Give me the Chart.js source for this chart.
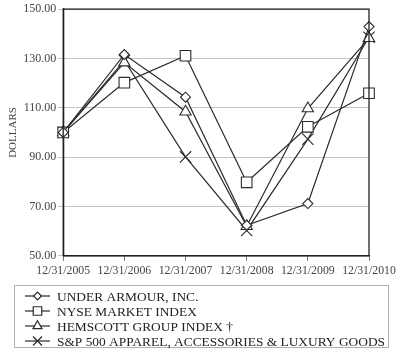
<!DOCTYPE html>
<html>
<head>
<meta charset="utf-8">
<script src="https://cdn.jsdelivr.net/npm/chart.js@4"></script>
<style>
  html, body { margin: 0; padding: 0; background: #fff; }
  #wrap { width: 405px; height: 352px; }
</style>
</head>
<body>
<div id="wrap"><canvas id="myChart" width="405" height="352"></canvas></div>
<script>
// Datos
const years = ['12/31/2005', '12/31/2006', '12/31/2007', '12/31/2008', '12/31/2009', '12/31/2010'];
const underArmour = [100, 131.6, 114.3, 62.4, 71.2, 142.9];
const nyseIndex = [100, 120.2, 131.1, 79.8, 102.3, 115.9];
const hemscott = [100, 128.3, 108.4, 62.0, 109.7, 138.2];
const spApparel = [100, 129.2, 90.1, 60.3, 97.3, 138.6];
const seriesNames = [
    'UNDER ARMOUR, INC.',
    'NYSE MARKET INDEX',
    'HEMSCOTT GROUP INDEX \u2020',
    'S&P 500 APPAREL, ACCESSORIES & LUXURY GOODS'
];
const yTicks = [50, 70, 90, 110, 130, 150];

const serif = "'Liberation Serif', 'DejaVu Serif', serif";
const ink = '#2b2b2b';

const styles = [
    { pointStyle: 'rectRot', pointRadius: 5 },
    { pointStyle: 'rect', pointRadius: 7.5 },
    { pointStyle: 'triangle', pointRadius: 6.5 },
    { pointStyle: 'crossRot', pointRadius: 8 }
];

const datasets = [underArmour, nyseIndex, hemscott, spApparel].map((values, i) => ({
    label: seriesNames[i],
    data: values,
    borderColor: ink,
    borderWidth: 1.2,
    backgroundColor: '#fff',
    pointBackgroundColor: '#fff',
    pointBorderColor: ink,
    pointBorderWidth: 1.1,
    pointStyle: styles[i].pointStyle,
    pointRadius: styles[i].pointRadius,
    tension: 0
}));

// Marco del área de datos
const frame = {
    id: 'frame',
    afterDatasetsDraw(chart) {
        const { ctx, chartArea: a } = chart;
        ctx.save();
        ctx.strokeStyle = '#222';
        ctx.lineWidth = 1.3;
        ctx.strokeRect(a.left, a.top, a.right - a.left, a.bottom - a.top);
        ctx.restore();
    }
};

// Leyenda en caja, una serie por línea
const boxLegend = {
    id: 'boxLegend',
    afterDraw(chart) {
        const ctx = chart.ctx;
        const left = 14, right = 388, top = 285, bottom = 347;
        ctx.save();
        ctx.strokeStyle = '#b0b0b0';
        ctx.lineWidth = 1;
        ctx.strokeRect(left + 0.5, top + 0.5, right - left, bottom - top);
        chart.data.datasets.forEach((ds, i) => {
            const y = top + 11 + i * 15;
            ctx.strokeStyle = ink;
            ctx.lineWidth = 1.2;
            ctx.beginPath();
            ctx.moveTo(25, y);
            ctx.lineTo(50, y);
            ctx.stroke();
            ctx.fillStyle = '#fff';
            Chart.helpers.drawPoint(ctx, {
                pointStyle: ds.pointStyle,
                radius: ds.pointRadius * 0.8,
                borderWidth: 1.1
            }, 37.5, y);
            ctx.fillStyle = '#222';
            ctx.font = '13.4px ' + serif;
            ctx.textBaseline = 'middle';
            ctx.fillText(ds.label, 57, y + 1);
        });
        ctx.restore();
    }
};

const ctx = document.getElementById('myChart').getContext('2d');
new Chart(ctx, {
    type: 'line',
    data: { labels: years, datasets: datasets },
    options: {
        responsive: false,
        animation: false,
        layout: { padding: { top: 0, right: 36, bottom: 71, left: 7 } },
        plugins: {
            legend: { display: false },
            tooltip: { enabled: false }
        },
        scales: {
            x: {
                offset: false,
                grid: { drawOnChartArea: false, tickLength: 5, color: '#777' },
                border: { color: '#222', width: 1.3 },
                ticks: {
                    maxRotation: 0,
                    autoSkip: false,
                    color: '#444',
                    padding: 3,
                    font: { family: serif, size: 11.8 }
                }
            },
            y: {
                min: 50,
                max: 150,
                afterBuildTicks(axis) {
                    axis.ticks = yTicks.map(v => ({ value: v }));
                },
                grid: { color: '#c4c4c4', tickLength: 5 },
                border: { color: '#222', width: 1.3 },
                ticks: {
                    color: '#444',
                    padding: 2,
                    font: { family: serif, size: 12, lineHeight: 0.4 },
                    callback: v => v.toFixed(2)
                },
                title: {
                    display: true,
                    text: 'DOLLARS',
                    color: '#444',
                    padding: { top: 0, bottom: 1 },
                    font: { family: serif, size: 11 }
                }
            }
        }
    },
    plugins: [frame, boxLegend]
});
</script>
</body>
</html>
